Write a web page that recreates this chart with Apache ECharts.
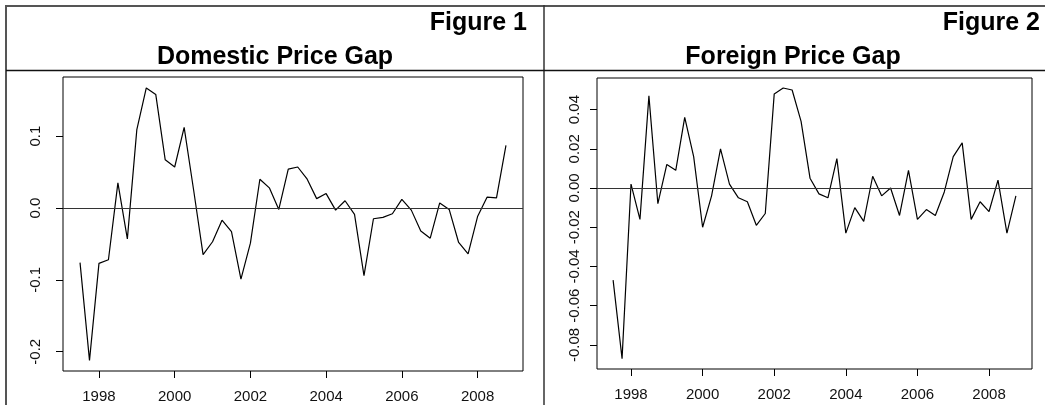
<!DOCTYPE html>
<html>
<head>
<meta charset="utf-8">
<script src="https://cdn.jsdelivr.net/npm/echarts@6/dist/echarts.min.js"></script>
<style>
  html, body { margin: 0; padding: 0; background: #fff; }
  #chart { width: 1045px; height: 405px; }
</style>
</head>
<body>
<div id="chart"></div>
<script>
// quarterly observations, 1997Q3 .. 2008Q4 (decimal years)
const quarters = [
  1997.5, 1997.75, 1998.0, 1998.25, 1998.5, 1998.75, 1999.0, 1999.25, 1999.5, 1999.75,
  2000.0, 2000.25, 2000.5, 2000.75, 2001.0, 2001.25, 2001.5, 2001.75, 2002.0, 2002.25,
  2002.5, 2002.75, 2003.0, 2003.25, 2003.5, 2003.75, 2004.0, 2004.25, 2004.5, 2004.75,
  2005.0, 2005.25, 2005.5, 2005.75, 2006.0, 2006.25, 2006.5, 2006.75, 2007.0, 2007.25,
  2007.5, 2007.75, 2008.0, 2008.25, 2008.5, 2008.75
]

const domesticGap = [
  -0.076, -0.212, -0.077, -0.072, 0.035, -0.043, 0.109, 0.167, 0.158, 0.067,
  0.057, 0.112, 0.025, -0.065, -0.047, -0.017, -0.033, -0.099, -0.049, 0.040,
  0.028, -0.002, 0.054, 0.057, 0.040, 0.013, 0.020, -0.003, 0.010, -0.009,
  -0.094, -0.015, -0.013, -0.008, 0.012, -0.003, -0.032, -0.042, 0.007, -0.002,
  -0.048, -0.064, -0.012, 0.015, 0.014, 0.087
]

const foreignGap = [
  -0.047, -0.087, 0.002, -0.016, 0.047, -0.008, 0.012, 0.009, 0.036, 0.016,
  -0.020, -0.004, 0.020, 0.002, -0.005, -0.007, -0.019, -0.013, 0.048, 0.051,
  0.050, 0.034, 0.005, -0.003, -0.005, 0.015, -0.023, -0.010, -0.017, 0.006,
  -0.004, 0.000, -0.014, 0.009, -0.016, -0.011, -0.014, -0.002, 0.016, 0.023,
  -0.016, -0.007, -0.012, 0.004, -0.023, -0.004
]

const yearTicks = [1998, 2000, 2002, 2004, 2006, 2008]
const domesticTicks = [-0.2, -0.1, 0.0, 0.1]
const foreignTicks = [-0.08, -0.06, -0.04, -0.02, 0.00, 0.02, 0.04]

const FONT = 'Liberation Sans, Arial, sans-serif'

function pairs(ys) {
  return quarters.map((q, i) => [q, ys[i]])
}

function xAxisFor(gridIndex) {
  return {
    type: 'value',
    gridIndex: gridIndex,
    min: 1997.05,
    max: 2009.2,
    axisLine: { show: false, onZero: false },
    splitLine: { show: false },
    axisTick: { show: true, length: 7, inside: false, customValues: yearTicks, lineStyle: { color: '#000' } },
    axisLabel: {
      customValues: yearTicks,
      color: '#111',
      fontFamily: FONT,
      fontSize: 15,
      margin: 18,
      formatter: v => String(v)
    }
  }
}

function yAxisFor(gridIndex, min, max, ticks, digits, margin) {
  return {
    type: 'value',
    gridIndex: gridIndex,
    min: min,
    max: max,
    axisLine: { show: false, onZero: false },
    splitLine: { show: false },
    axisTick: { show: true, length: 7, customValues: ticks, lineStyle: { color: '#000' } },
    axisLabel: {
      customValues: ticks,
      rotate: 90,
      color: '#111',
      fontFamily: FONT,
      fontSize: 15,
      margin: margin,
      formatter: v => Number(v).toFixed(digits)
    }
  }
}

function gapSeries(index, ys) {
  return {
    type: 'line',
    xAxisIndex: index,
    yAxisIndex: index,
    data: pairs(ys),
    showSymbol: false,
    symbol: 'none',
    lineStyle: { color: '#000', width: 1.2 },
    markLine: {
      silent: true,
      symbol: 'none',
      label: { show: false },
      lineStyle: { color: '#333', width: 1, type: 'solid' },
      data: [{ yAxis: 0 }]
    }
  }
}

const chart = echarts.init(document.getElementById('chart'))

chart.setOption({
  animation: false,
  backgroundColor: '#fff',
  grid: [
    { left: 63, top: 77, width: 460, height: 294, show: true, borderColor: '#000', borderWidth: 1, backgroundColor: 'transparent' },
    { left: 597, top: 78, width: 435, height: 291, show: true, borderColor: '#000', borderWidth: 1, backgroundColor: 'transparent' }
  ],
  xAxis: [xAxisFor(0), xAxisFor(1)],
  yAxis: [
    yAxisFor(0, -0.2268, 0.1822, domesticTicks, 1, 20),
    yAxisFor(1, -0.0923, 0.0561, foreignTicks, 2, 15)
  ],
  series: [gapSeries(0, domesticGap), gapSeries(1, foreignGap)],
  graphic: [
    // table frame
    { type: 'line', shape: { x1: 5, y1: 6, x2: 1045, y2: 6 }, style: { stroke: '#555', lineWidth: 2 } },
    { type: 'line', shape: { x1: 6, y1: 5, x2: 6, y2: 405 }, style: { stroke: '#555', lineWidth: 2 } },
    { type: 'line', shape: { x1: 544, y1: 5, x2: 544, y2: 405 }, style: { stroke: '#333', lineWidth: 1.5 } },
    { type: 'line', shape: { x1: 6, y1: 70.5, x2: 1045, y2: 70.5 }, style: { stroke: '#111', lineWidth: 1.5 } },
    // headings
    { type: 'text', x: 527, y: 23, style: { text: 'Figure 1', font: 'bold 25px ' + FONT, fill: '#000', textAlign: 'right', textVerticalAlign: 'middle' } },
    { type: 'text', x: 275, y: 57, style: { text: 'Domestic Price Gap', font: 'bold 25px ' + FONT, fill: '#000', textAlign: 'center', textVerticalAlign: 'middle' } },
    { type: 'text', x: 1040, y: 23, style: { text: 'Figure 2', font: 'bold 25px ' + FONT, fill: '#000', textAlign: 'right', textVerticalAlign: 'middle' } },
    { type: 'text', x: 793, y: 57, style: { text: 'Foreign Price Gap', font: 'bold 25px ' + FONT, fill: '#000', textAlign: 'center', textVerticalAlign: 'middle' } }
  ]
})
</script>
</body>
</html>
